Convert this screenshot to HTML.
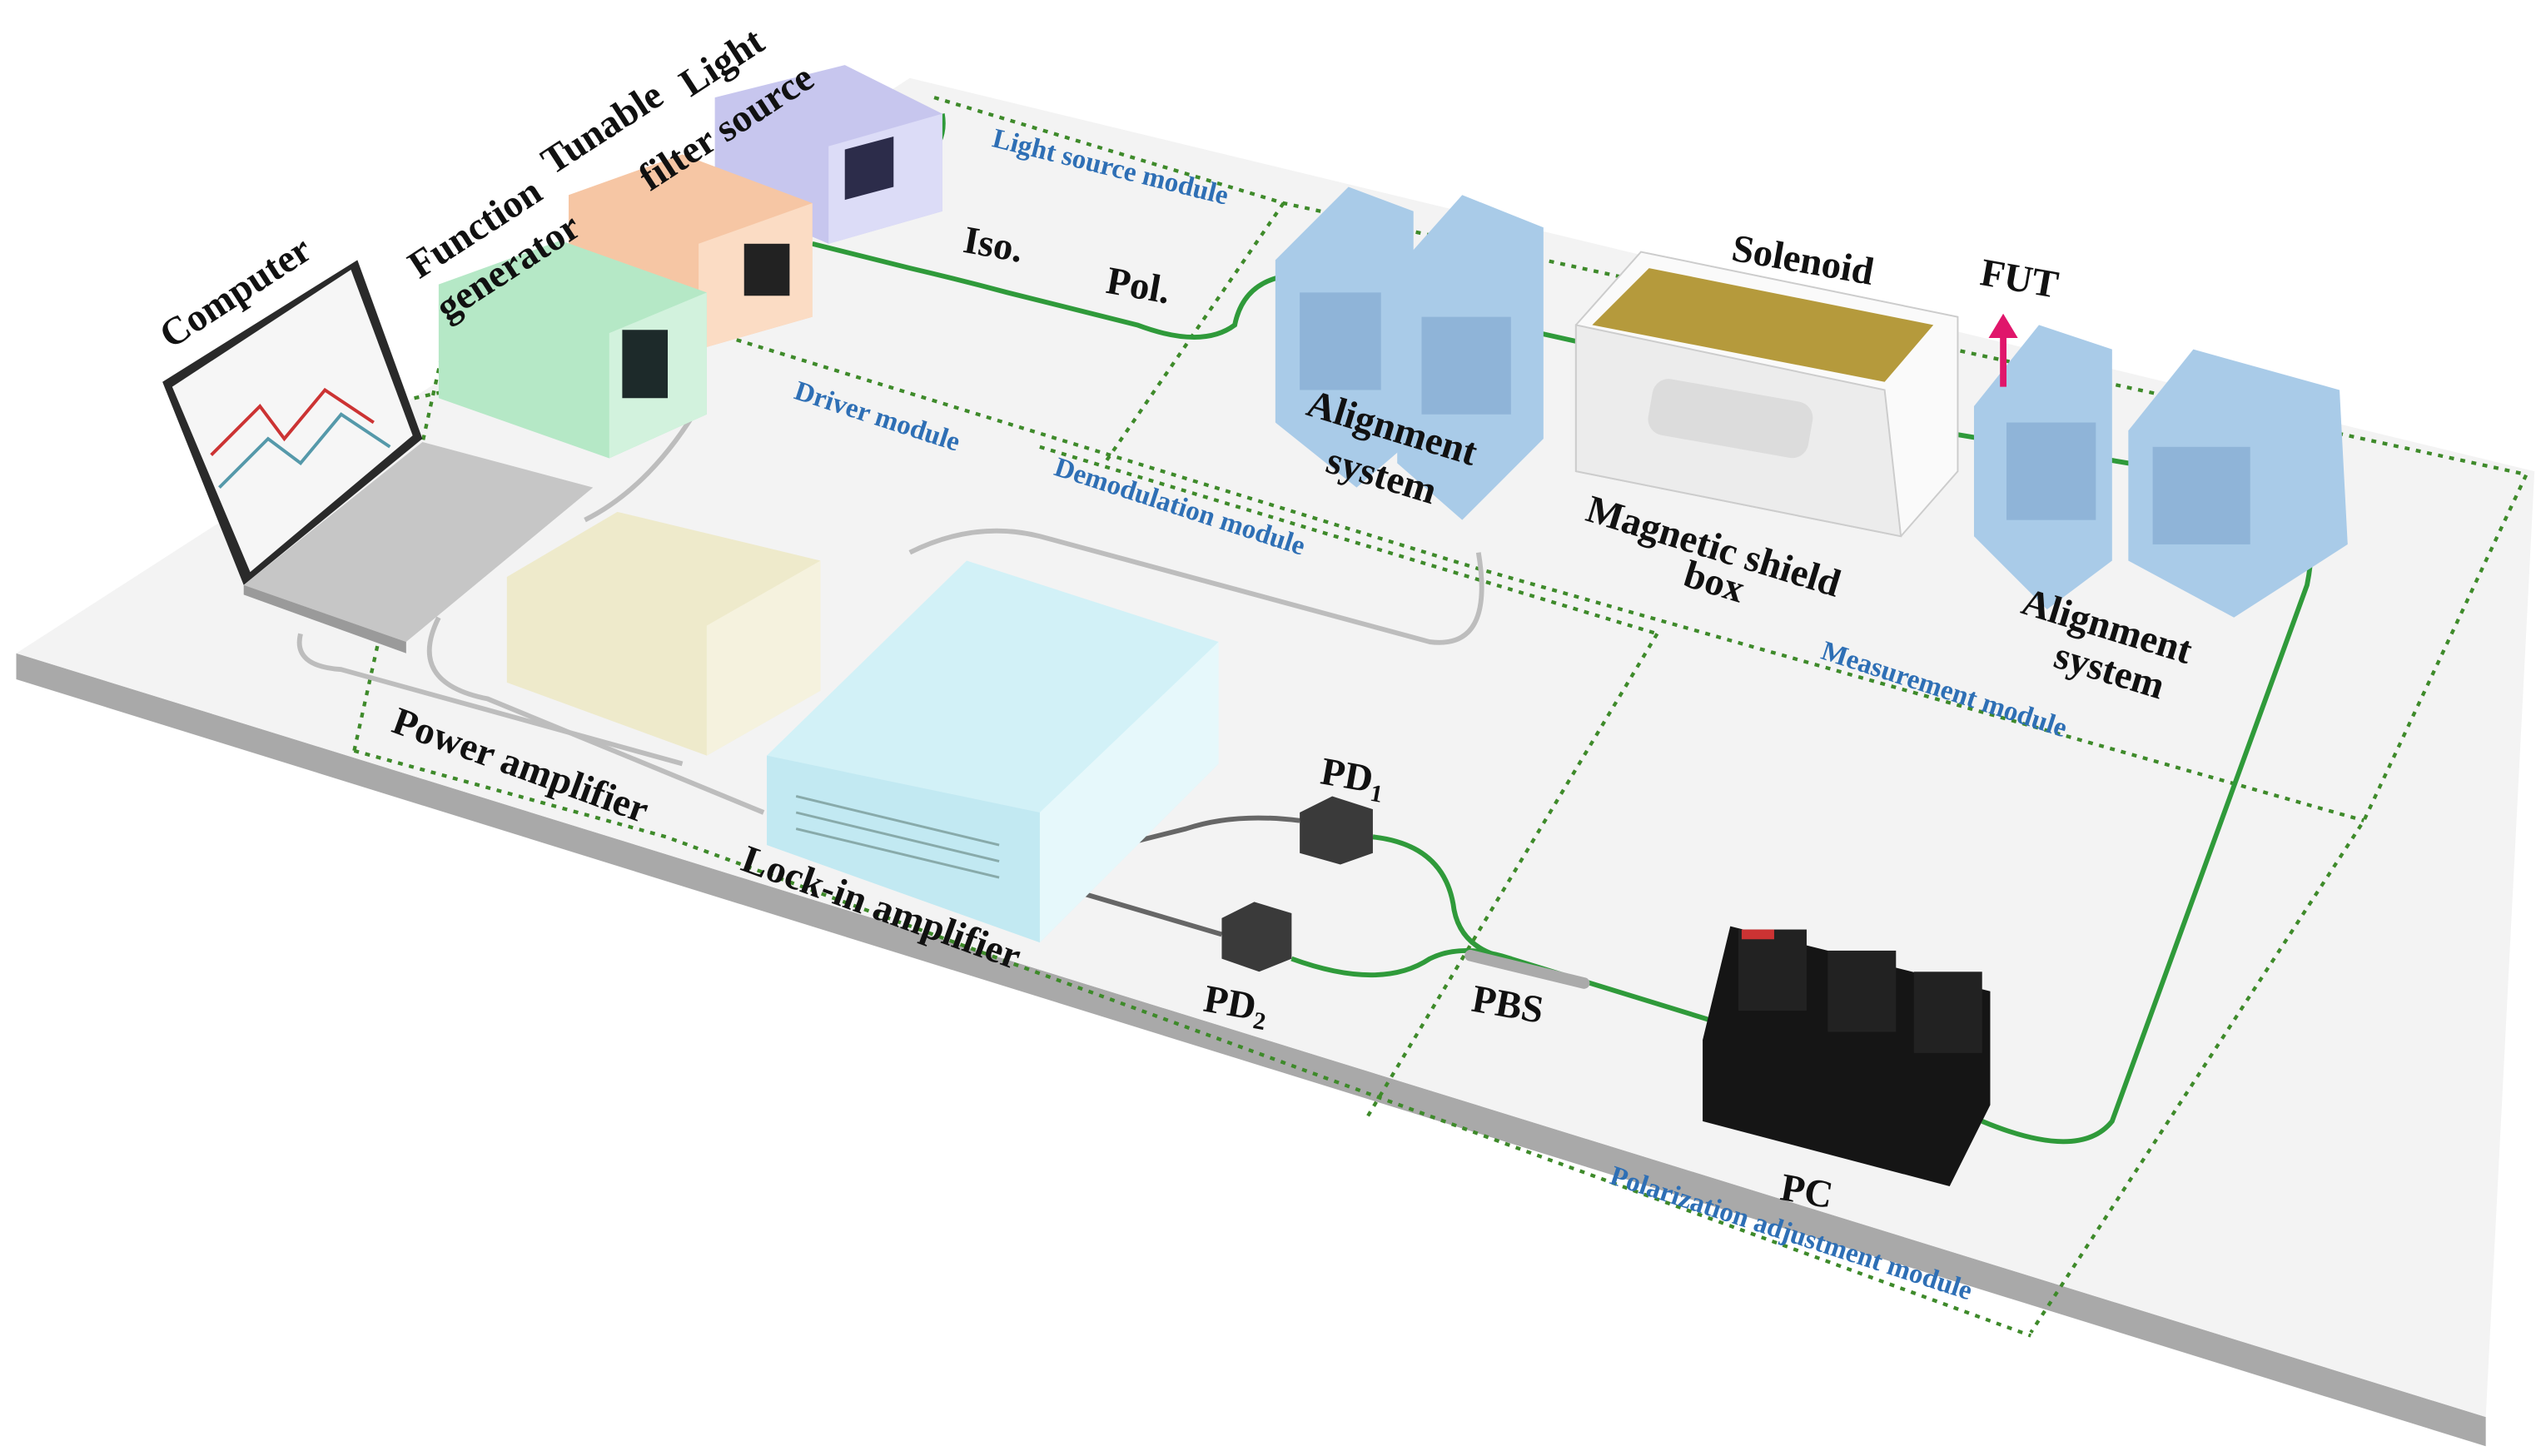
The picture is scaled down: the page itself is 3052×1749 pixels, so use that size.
<!DOCTYPE html>
<html><head><meta charset="utf-8"><style>
html,body{margin:0;padding:0;background:#fff;}
svg{display:block;}
.lb{font-family:"Liberation Serif",serif;font-weight:bold;fill:#111;font-size:24px;}
.mb{font-family:"Liberation Serif",serif;font-weight:bold;fill:#2e6fb5;font-size:17px;}
</style></head><body>
<svg width="3052" height="1749" viewBox="0 0 1564 896" preserveAspectRatio="none" xmlns="http://www.w3.org/2000/svg">
<rect width="1564" height="896" fill="#fff"/>
<polygon points="10,402 1530,872 1530,890 10,418" fill="#a9a9a9"/>
<polygon points="10,402 560,48 1560,290 1530,872" fill="#f3f3f3"/>
<g stroke="#3e8a2a" stroke-width="2.2" stroke-dasharray="3,4" fill="none">
<polyline points="575,60 790,125 1555,292 1455,505 1250,820"/>
<polyline points="218,462 410,515 1250,822"/>
<line x1="218" y1="462" x2="275" y2="205"/>
<polyline points="440,205 910,350 1455,505"/>
<line x1="255" y1="245" x2="440" y2="205"/>
<line x1="790" y1="125" x2="680" y2="285"/>
<line x1="1020" y1="390" x2="840" y2="690"/>
<polyline points="640,275 1020,390"/>
</g>
<g stroke="#bdbdbd" stroke-width="3" fill="none">
<path d="M185,390 Q180,410 210,412 L420,470"/>
<path d="M270,380 Q250,420 300,430 L470,500"/>
<path d="M560,340 Q600,320 640,330 L880,395 Q920,400 910,340"/>
<path d="M430,250 Q400,300 360,320"/>
</g>
<g stroke="#666" stroke-width="3" fill="none">
<path d="M650,530 L730,510 Q760,500 800,505"/>
<path d="M650,545 L752,575"/>
</g>
<g stroke="#2f9a3a" stroke-width="3" fill="none">
<path d="M500,150 L560,165 Q590,172 620,180 L700,200 Q740,215 760,200 Q765,175 790,170 L970,210"/>
<path d="M580,70 Q585,100 540,110"/>
<path d="M1190,265 L1400,300 Q1430,310 1420,360 L1300,690 Q1280,715 1220,690"/>
<path d="M845,515 Q890,520 895,560 Q900,585 930,590 L1060,630"/>
<path d="M795,590 Q850,610 880,590 Q900,580 930,590"/>
</g>
<polygon points="440,60 520,40 580,70 580,130 510,150 440,120" fill="#c7c6ee"/>
<polygon points="510,90 580,70 580,130 510,150" fill="#dcdcf7"/>
<polygon points="520,92 550,84 550,115 520,123" fill="#2c2c4a"/>
<polygon points="350,120 420,95 500,125 500,195 430,215 350,185" fill="#f6c6a4"/>
<polygon points="430,150 500,125 500,195 430,215" fill="#fbdcc4"/>
<rect x="458" y="150" width="28" height="32" fill="#222"/>
<polygon points="270,175 345,148 435,180 435,255 375,282 270,245" fill="#b5e8c6"/>
<polygon points="375,205 435,180 435,255 375,282" fill="#d2f2dd"/>
<rect x="383" y="203" width="28" height="42" fill="#1d2a2a"/>
<polygon points="100,235 220,160 260,270 150,360" fill="#2a2a2a"/>
<polygon points="106,238 216,166 254,268 154,352" fill="#f6f6f6"/>
<path d="M130,280 L160,250 L175,270 L200,240 L230,260" stroke="#c33" stroke-width="2" fill="none"/>
<path d="M135,300 L165,270 L185,285 L210,255 L240,275" stroke="#59a" stroke-width="2" fill="none"/>
<polygon points="150,360 260,272 365,300 250,395" fill="#c6c6c6"/>
<polygon points="150,360 250,395 250,402 150,366" fill="#9a9a9a"/>
<polygon points="312,355 380,315 505,345 505,425 435,465 312,420" fill="#eeeacb"/>
<polygon points="435,385 505,345 505,425 435,465" fill="#f5f2de"/>
<polygon points="472,465 595,345 750,395 750,470 640,580 472,520" fill="#d2f1f7"/>
<polygon points="640,500 750,395 750,470 640,580" fill="#e6f8fb"/>
<polygon points="472,465 640,500 640,580 472,520" fill="#c2e9f2"/>
<g stroke="#8aa" stroke-width="1.5"><line x1="490" y1="490" x2="615" y2="520"/><line x1="490" y1="500" x2="615" y2="530"/><line x1="490" y1="510" x2="615" y2="540"/></g>
<g fill="#a9cbe8">
<polygon points="785,160 830,115 870,130 870,270 835,300 785,260"/>
<polygon points="860,165 900,120 950,140 950,270 900,320 860,285"/>
<polygon points="1215,250 1255,200 1300,215 1300,345 1260,375 1215,330"/>
<polygon points="1310,265 1350,215 1440,240 1445,335 1375,380 1310,345"/>
</g>
<g fill="#8fb4d8">
<rect x="800" y="180" width="50" height="60"/><rect x="875" y="195" width="55" height="60"/>
<rect x="1235" y="260" width="55" height="60"/><rect x="1325" y="275" width="60" height="60"/>
</g>
<polygon points="970,200 1010,155 1205,195 1205,290 1170,330 970,290" fill="#fafafa" stroke="#ccc"/>
<polygon points="980,200 1015,165 1190,200 1160,235" fill="#b59a3c"/>
<polygon points="970,200 1160,240 1170,330 970,290" fill="#ececec" stroke="#ccc"/>
<rect x="1015" y="240" width="100" height="35" rx="10" fill="#dcdcdc" transform="rotate(10 1065 258)"/>
<polygon points="800,500 820,490 845,498 845,525 825,532 800,525" fill="#3a3a3a"/>
<polygon points="752,565 772,555 795,562 795,590 775,598 752,590" fill="#3a3a3a"/>
<line x1="905" y1="588" x2="975" y2="605" stroke="#aaa" stroke-width="7" stroke-linecap="round"/>
<polygon points="1048,640 1065,570 1225,610 1225,680 1200,730 1048,690" fill="#151515"/>
<rect x="1070" y="572" width="42" height="50" fill="#222"/><rect x="1125" y="585" width="42" height="50" fill="#222"/><rect x="1178" y="598" width="42" height="50" fill="#222"/>
<rect x="1072" y="572" width="20" height="6" fill="#c33"/>
<line x1="1233" y1="238" x2="1233" y2="205" stroke="#e0166b" stroke-width="4"/>
<polygon points="1224,208 1242,208 1233,193" fill="#e0166b"/>
<text class="lb" transform="translate(105,215) rotate(-33)">Computer</text>
<text class="lb" transform="translate(258,172) rotate(-33)">Function</text>
<text class="lb" transform="translate(275,198) rotate(-33)">generator</text>
<text class="lb" transform="translate(340,108) rotate(-33)">Tunable</text>
<text class="lb" transform="translate(400,118) rotate(-33)">filter</text>
<text class="lb" transform="translate(425,60) rotate(-33)">Light</text>
<text class="lb" transform="translate(447,88) rotate(-33)">source</text>
<text class="lb" transform="translate(592,155) rotate(10)">Iso.</text>
<text class="lb" transform="translate(680,180) rotate(10)">Pol.</text>
<text class="lb" transform="translate(1065,160) rotate(10)">Solenoid</text>
<text class="lb" transform="translate(1218,175) rotate(10)">FUT</text>
<text class="lb" transform="translate(803,255) rotate(17)">Alignment</text>
<text class="lb" transform="translate(815,290) rotate(17)">system</text>
<text class="lb" transform="translate(975,320) rotate(17)">Magnetic shield</text>
<text class="lb" transform="translate(1035,360) rotate(17)">box</text>
<text class="lb" transform="translate(1243,377) rotate(17)">Alignment</text>
<text class="lb" transform="translate(1263,410) rotate(17)">system</text>
<text class="lb" transform="translate(240,450) rotate(20)">Power amplifier</text>
<text class="lb" transform="translate(455,535) rotate(20)">Lock-in amplifier</text>
<text class="lb" transform="translate(812,482) rotate(10)">PD<tspan font-size="15" dy="5">1</tspan></text>
<text class="lb" transform="translate(740,622) rotate(10)">PD<tspan font-size="15" dy="5">2</tspan></text>
<text class="lb" transform="translate(905,622) rotate(10)">PBS</text>
<text class="lb" transform="translate(1095,738) rotate(10)">PC</text>
<text class="mb" transform="translate(610,90) rotate(14)">Light source module</text>
<text class="mb" transform="translate(488,245) rotate(18)">Driver module</text>
<text class="mb" transform="translate(648,292) rotate(18)">Demodulation module</text>
<text class="mb" transform="translate(1120,405) rotate(18)">Measurement module</text>
<text class="mb" transform="translate(990,728) rotate(18)">Polarization adjustment module</text>
</svg>
</body></html>
